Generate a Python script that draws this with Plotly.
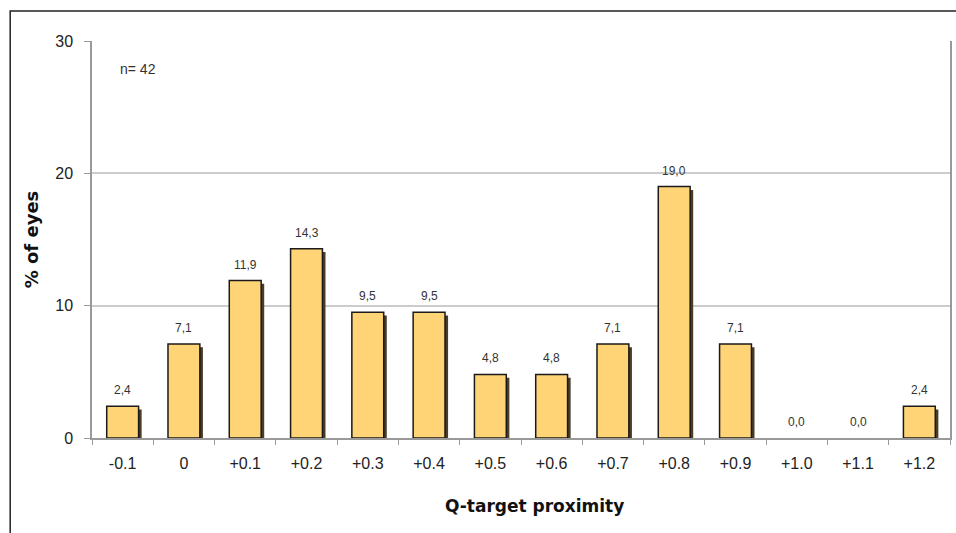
import plotly.graph_objects as go

# Refraction outcome relative to the Q target
categories = ["-0.1", "0", "+0.1", "+0.2", "+0.3", "+0.4", "+0.5",
              "+0.6", "+0.7", "+0.8", "+0.9", "+1.0", "+1.1", "+1.2"]
percent_eyes = [2.4, 7.1, 11.9, 14.3, 9.5, 9.5, 4.8,
                4.8, 7.1, 19.0, 7.1, 0.0, 0.0, 2.4]
y_ticks = [0, 10, 20, 30]

FONT = "Liberation Sans, Arial, sans-serif"
TITLE_FONT = "DejaVu Sans, sans-serif"
BAR_W = 0.52

fig = go.Figure()

# drop shadow behind each bar
fig.add_trace(go.Bar(
    x=categories, y=percent_eyes, base=-0.25,
    width=BAR_W, offset=-BAR_W / 2 + 0.05,
    marker=dict(color="#4a3d28", line=dict(width=0)),
    hoverinfo="skip", showlegend=False,
))

# main bars (no outline where the value is zero)
fig.add_trace(go.Bar(
    x=categories, y=percent_eyes,
    width=BAR_W, offset=-BAR_W / 2,
    marker=dict(color="#ffd477",
                line=dict(color="#1a1a1a",
                          width=[1.5 if v > 0 else 0 for v in percent_eyes])),
    showlegend=False,
))

# value labels above the bars (category axis addressed by index)
labels = [dict(
    x=i, y=v, xref="x", yref="y", text=f"{v:.1f}".replace(".", ","),
    showarrow=False, yanchor="bottom", yshift=7,
    font=dict(family=FONT, size=12, color="#333333"),
) for i, v in enumerate(percent_eyes)]

labels.append(dict(
    text="n= 42", xref="paper", yref="paper", x=0.03, y=0.93,
    xanchor="left", yanchor="middle", showarrow=False,
    font=dict(family=FONT, size=14, color="#333333"),
))

# x-axis title, set slightly right of the plot centre
labels.append(dict(
    text="<b>Q-target proximity</b>", xref="paper", yref="paper",
    x=0.516, y=-0.171, xanchor="center", yanchor="middle", showarrow=False,
    font=dict(family=TITLE_FONT, size=17, color="#111111"),
))

fig.update_layout(
    width=956, height=533,
    margin=dict(l=92, r=4, t=41, b=95),
    barmode="overlay",
    paper_bgcolor="white", plot_bgcolor="white",
    font=dict(family=FONT, color="#222222"),
    xaxis=dict(
        type="category", tickson="boundaries", ticks="outside", ticklen=5,
        tickcolor="#999999", showgrid=False, showline=True,
        linecolor="#999999", linewidth=1.5, ticklabelstandoff=10,
        tickfont=dict(size=16, color="#222222"),
    ),
    yaxis=dict(
        range=[0, 30], tickvals=y_ticks, ticks="outside", ticklen=6,
        tickcolor="#999999", showgrid=True, gridcolor="#cccccc", gridwidth=1.5,
        showline=True, linecolor="#999999", linewidth=1.5, mirror=True,
        zeroline=False, ticklabelstandoff=8,
        tickfont=dict(size=16, color="#222222"),
        title=dict(text="<b>% of eyes</b>",
                   font=dict(family=TITLE_FONT, size=18, color="#111111"),
                   standoff=12),
    ),
    annotations=labels,
    shapes=[dict(
        type="rect", xref="paper", yref="paper",
        x0=-82 / 860, x1=1.01, y0=-0.3, y1=1 + 30 / 397,
        line=dict(color="#222222", width=1.5), layer="below",
    )],
)

fig.write_html("out.html")
